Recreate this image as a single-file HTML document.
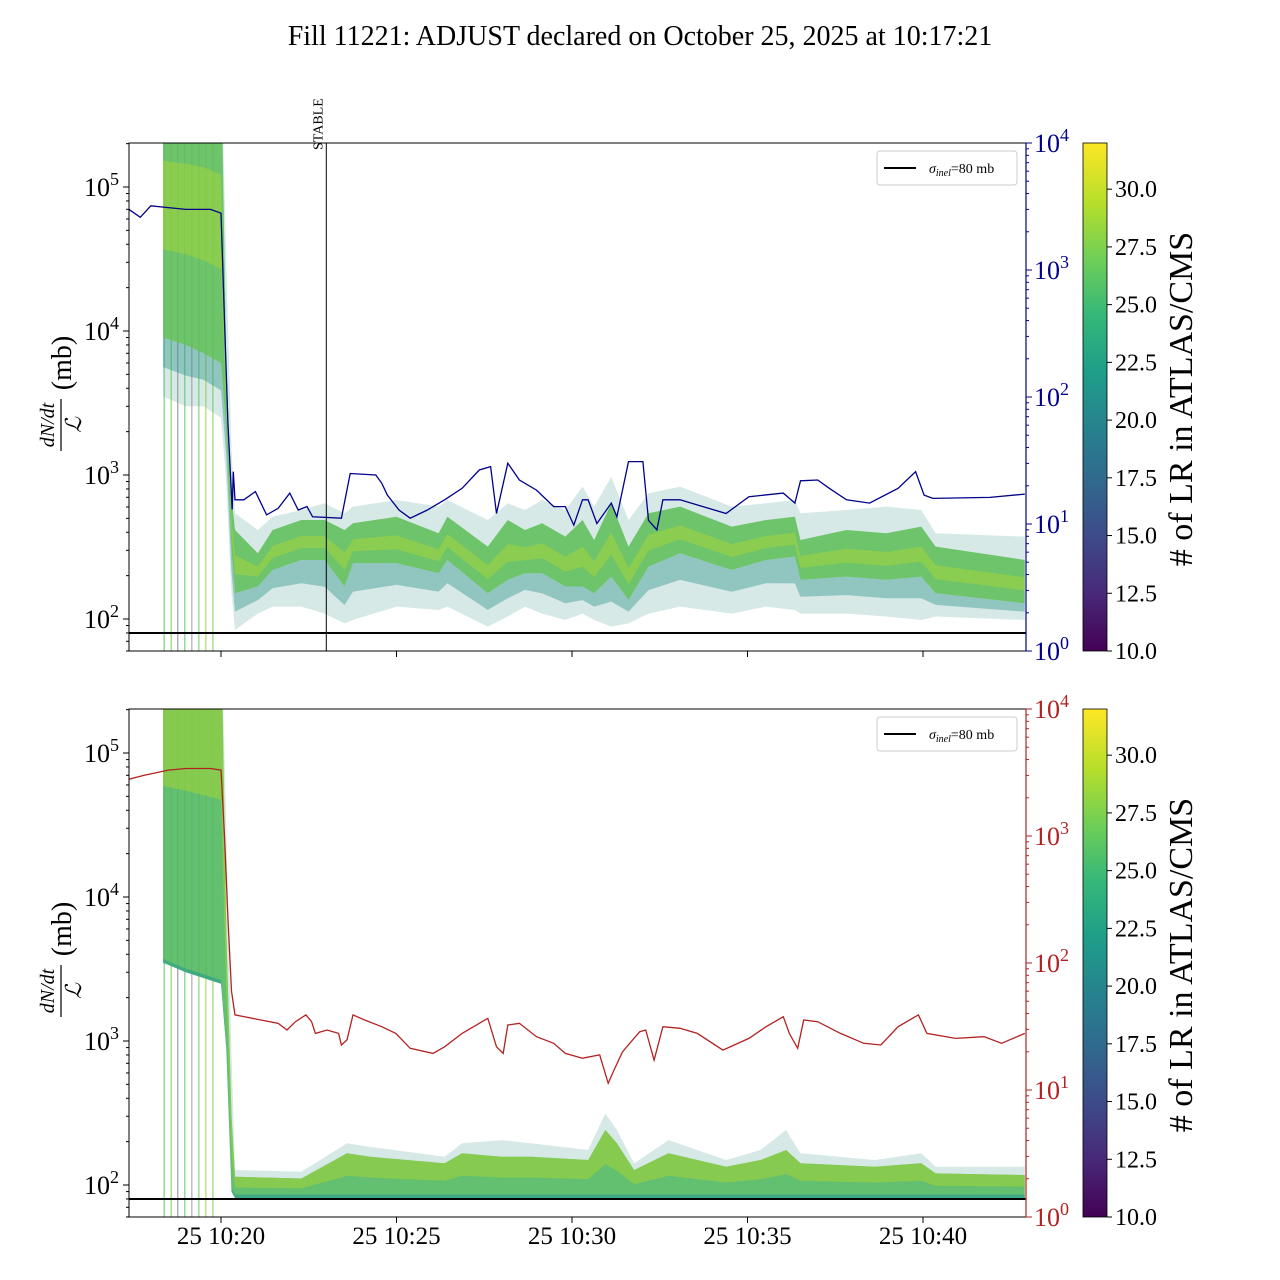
<!DOCTYPE html>
<html><head><meta charset="utf-8">
<style>
html,body{margin:0;padding:0;background:#fff;}
svg{display:block;font-family:"Liberation Serif",serif;}
</style></head>
<body>
<svg id="chart" width="1280" height="1280" viewBox="0 0 1280 1280" xmlns="http://www.w3.org/2000/svg">
<defs>
<linearGradient id="viridis" x1="0" y1="1" x2="0" y2="0">
<stop offset="0" stop-color="#440154"/><stop offset="0.11" stop-color="#482878"/><stop offset="0.22" stop-color="#3e4989"/><stop offset="0.33" stop-color="#31688e"/><stop offset="0.44" stop-color="#26828e"/><stop offset="0.55" stop-color="#1f9e89"/><stop offset="0.66" stop-color="#35b779"/><stop offset="0.77" stop-color="#6ece58"/><stop offset="0.88" stop-color="#b5de2b"/><stop offset="1" stop-color="#fde725"/>
</linearGradient>
<clipPath id="clipTop"><rect x="129" y="143" width="897" height="508"/></clipPath>
<clipPath id="clipBot"><rect x="129" y="709" width="897" height="508"/></clipPath>
</defs>
<text x="640" y="45" text-anchor="middle" font-size="28">Fill 11221: ADJUST declared on October 25, 2025 at 10:17:21</text>
</svg>
<script>
// ---- data ----
const blueT=[-2.62,-2.3,-2.0,-1.5,-1.0,-0.3,0.0,0.1,0.2,0.32,0.35,0.40,0.65,0.98,1.30,1.63,1.96,2.20,2.45,2.61,3.43,3.68,4.41,4.58,4.74,5.07,5.39,5.88,6.37,6.87,7.36,7.68,7.85,8.17,8.50,8.99,9.48,9.81,10.05,10.30,10.46,10.71,11.12,11.28,11.61,12.02,12.18,12.42,12.59,13.08,13.73,14.39,15.04,16.02,16.35,16.51,17.00,17.33,17.82,18.48,19.29,19.79,20.03,20.28,21.91,22.9];
const blueV=[3000,2600,3200,3100,3000,3000,2800,400,60,13,25.8,15.5,15.5,18,11.8,13.3,17.5,12.9,13.7,11.4,11.1,25,24.3,20.9,16.9,12.9,11.1,12.9,15.5,19.1,26.6,28.3,12.1,30.1,22.2,18.5,13.7,13.7,9.8,15.5,15.5,10.1,14.6,11.4,31,31,10.7,9.0,15.5,15.5,13.7,12.1,16.4,17.5,14.6,21.9,22.2,19.1,15.5,14.6,19.1,25.8,16.9,15.9,16.2,17.2];
const redT=[-2.62,-2.2,-1.5,-1.0,-0.3,0.0,0.1,0.2,0.3,0.40,1.14,1.63,1.88,2.12,2.42,2.58,2.69,3.02,3.35,3.43,3.59,3.76,4.09,4.58,4.98,5.39,6.04,6.37,6.87,7.60,7.85,8.04,8.17,8.50,8.99,9.48,9.81,10.30,10.79,11.03,11.20,11.44,11.93,12.10,12.34,12.59,13.08,13.57,14.30,15.04,15.53,16.02,16.19,16.43,16.60,17.00,17.65,18.31,18.80,19.29,19.87,20.11,20.93,21.74,22.24,22.9];
const redV=[2800,3000,3300,3400,3400,3300,1000,220,60,39,35.6,33.5,29.7,34.5,39,34.5,27.9,29.7,27.9,22.6,24.8,39,35.6,31.5,27.9,21.3,19.4,21.9,27.9,36.7,21.9,19.4,32.5,33.5,26.3,23.3,19.4,17.8,18.9,11.3,14.4,20,28.8,29.7,17.2,31.5,30.6,27.9,20.6,25.5,31.5,37.8,27.9,21.3,35.6,34.5,27.9,23.3,22.6,31.5,39,27.9,25.5,26.3,23.3,27.9];
const bandT=[-1.65,-1.0,-0.5,0.0,0.15,0.30,0.40,1.05,1.47,2.29,2.95,3.52,3.76,5.0,6.2,6.45,7.6,8.17,8.66,9.15,9.81,10.3,10.63,11.12,11.61,12.18,13.08,14.55,15.53,16.35,16.51,17.82,18.96,19.95,20.36,22.9];
const topHi=[1000000,1000000,1000000,1000000,30000,1500,542,415,513,571,636,542,603,670,603,670,487,636,571,670,571,830,603,973,487,746,830,603,636,670,542,571,603,571,394,373];
const topCoreHi=[1000000,1000000,1000000,900000,6000,700,415,286,415,487,487,415,462,513,394,513,318,487,415,462,373,487,354,636,318,542,603,438,487,513,354,415,394,438,318,257];
const topCoreLo=[9000,8000,7000,6000,2000,300,151,168,219,257,257,168,244,244,208,257,151,187,208,208,168,168,151,197,135.5,231,286,219,257,271,187,197,187,197,151,128.5];
const topLo=[3500,3000,3000,2500,900,150,84,109,122,122,109,93.3,98.4,122,115.5,122,88.5,104,122,109,98.4,109,98.4,88.5,93.3,109,122,109,122,115.5,109,109,104,98.4,104,98.4];
const botT=[-1.65,-1.0,0.0,0.15,0.30,0.40,2.29,3.59,4.25,6.37,6.87,8.0,8.83,10.46,10.95,11.28,11.77,12.75,14.39,15.37,16.10,16.51,18.63,19.95,20.36,22.9];
const botHi=[1000000,1000000,1000000,30000,800,127,123.7,195,184,157,195,205,195,175,314,241,141.5,205,149,175,241,166,149,166,134,134];
const botCore=[1000000,1000000,900000,6000,300,114,111,166,157,141.5,166,157,157,149,241,195,127,166,134,149,175,141.5,134,141.5,120.5,117.3];
const botLo=[3500,3000,2500,900,90,81,81,81,81,81,81,81,81,81,81,81,81,81,81,81,81,81,81,81,81,81];
const vlineT=[-1.62,-1.42,-1.23,-1.03,-0.83,-0.63,-0.43,-0.23];
const vlineC=["#5ec962","#7ad151","#8a8a8a","#5ec962","#9a9a9a","#6ece58","#a0da39","#7ad151"];
const xTickT=[0,5,10,15,20];
const xTickL=["25 10:20","25 10:25","25 10:30","25 10:35","25 10:40"];
const leftDecades=[2,3,4,5];
const rightDecades=[0,1,2,3,4];
const cbTicks=[10,12.5,15,17.5,20,22.5,25,27.5,30];
const stableT=3.0;
const sigmaInel=80;

const NS="http://www.w3.org/2000/svg";
const svg=document.getElementById('chart');
const X0=129,X1=1026;
function xs(t){return 221+t*35.1;}
function yL(v,off){return 619+off-(Math.log10(v)-2)*144;}
function yR(v,off){return 651+off-Math.log10(v)*127;}
function mk(tag,attrs,parent){const e=document.createElementNS(NS,tag);for(const k in attrs)e.setAttribute(k,attrs[k]);(parent||svg).appendChild(e);return e;}

function panel(off,name,rightColor,lineT,lineV,bT,hi,cHi,cLo,lo,stable){
  const g=mk('g',{});
  
  
  const top=143+off,bot=651+off;
  const clip=mk('g',{'clip-path':off?'url(#clipBot)':'url(#clipTop)'},g);
  
  
  vlineT.forEach((t,i)=>{
    const l=mk('line',{x1:xs(t),x2:xs(t),y1:top,y2:bot,stroke:vlineC[i],'stroke-width':1},clip);
    
    
  });
  function poly(upper,lower,fill,op,nm){
    let pts=[];
    for(let i=0;i<bT.length;i++)pts.push(xs(bT[i])+','+yL(upper[i],off));
    for(let i=bT.length-1;i>=0;i--)pts.push(xs(bT[i])+','+yL(lower[i],off));
    const p=mk('polygon',{points:pts.join(' '),fill:fill,'fill-opacity':op},clip);
    
    
  }
  poly(hi,lo,'#5aa99a',0.25,'lr-band-outer');
  if(lo[lo.length-1]>90){
    const mid=cLo.map((v,i)=>Math.sqrt(v*lo[i]));
    poly(cLo,mid,'#2a8f86',0.4,'lr-band-lower');
    poly(cHi,cLo,'#5cbd55',0.85,'lr-band-core');
    const c2=cHi.map((v,i)=>Math.pow(v,0.6)*Math.pow(cLo[i],0.4));
    const c3=cHi.map((v,i)=>Math.pow(v,0.3)*Math.pow(cLo[i],0.7));
    poly(c2,c3,'#a6d636',0.5,'lr-band-center');
  } else {
    poly(cHi,lo,'#4fb85a',0.85,'lr-band-core');
    const mid=cHi.map((v,i)=>Math.sqrt(v*lo[i]));
    poly(cHi,mid,'#9ed23a',0.6,'lr-band-center');
    const lowb=lo.map(v=>v*1.06);
    poly(lowb,lo,'#2a9d8f',0.6,'lr-band-lower');
  }
  const d=lineT.map((t,i)=>(i?'L':'M')+xs(t).toFixed(1)+','+yR(lineV[i],off).toFixed(1)).join(' ');
  const pl=mk('path',{d:d,fill:'none',stroke:rightColor,'stroke-width':1.3},clip);
  
  
  const sl=mk('line',{x1:X0,x2:X1,y1:yL(sigmaInel,off),y2:yL(sigmaInel,off),stroke:'#000','stroke-width':2},clip);
  
  
  if(stable){
    const st=mk('line',{x1:xs(stableT),x2:xs(stableT),y1:top,y2:bot,stroke:'#000','stroke-width':1},g);
    
    
    const tx=mk('text',{x:0,y:0,'font-size':14,transform:`translate(${xs(stableT)-4},150) rotate(-90)`},g);
    tx.textContent='STABLE';
    
    
  }
  const fr=mk('rect',{x:X0,y:top,width:X1-X0,height:508,fill:'none',stroke:'#000','stroke-width':1},g);
  
  
  const rs=mk('line',{x1:X1,x2:X1,y1:top,y2:bot,stroke:rightColor,'stroke-width':1.2},g);
  
  
  leftDecades.forEach(dd=>{
    const y=yL(Math.pow(10,dd),off);
    const t=mk('line',{x1:X0-6,x2:X0,y1:y,y2:y,stroke:'#000'},g);
    
    
    const lb=mk('text',{x:X0-10,y:y+9,'font-size':26,'text-anchor':'end'},g);
    lb.innerHTML='10<tspan dy="-11" font-size="18">'+dd+'</tspan>';
    
    
  });
  for(let dd=1;dd<=5;dd++)for(let m=2;m<=9;m++){
    const y=yL(m*Math.pow(10,dd),off);
    if(y<top||y>bot)continue;
    const t=mk('line',{x1:X0-3,x2:X0,y1:y,y2:y,stroke:'#000'},g);
    
    
  }
  rightDecades.forEach(dd=>{
    const y=yR(Math.pow(10,dd),off);
    const t=mk('line',{x1:X1,x2:X1+6,y1:y,y2:y,stroke:rightColor},g);
    
    
    const lb=mk('text',{x:X1+8,y:y+9,'font-size':26,fill:rightColor},g);
    lb.innerHTML='10<tspan dy="-11" font-size="18">'+dd+'</tspan>';
    
    
    if(dd<4)for(let m=2;m<=9;m++){
      const ym=yR(m*Math.pow(10,dd),off);
      const mt=mk('line',{x1:X1,x2:X1+3,y1:ym,y2:ym,stroke:rightColor},g);
      
      
    }
  });
  xTickT.forEach((t,i)=>{
    const x=xs(t);
    const tk=mk('line',{x1:x,x2:x,y1:bot,y2:bot+6,stroke:'#000'},g);
    
    
    if(off){
      const lb=mk('text',{x:x,y:bot+27,'font-size':25,'text-anchor':'middle'},g);
      lb.textContent=xTickL[i];
      
      
    }
  });
  const yl=mk('g',{transform:`translate(62,${397+off}) rotate(-90)`},g);
  
  
  const n=mk('text',{x:-28,y:-8,'font-size':20,'font-style':'italic','text-anchor':'middle'},yl);n.textContent='dN/dt';
  
  
  mk('line',{x1:-54,x2:-2,y1:-1,y2:-1,stroke:'#000','stroke-width':1.2},yl);
  const dn=mk('text',{x:-28,y:19,'font-size':22,'font-style':'italic','text-anchor':'middle'},yl);dn.textContent='ℒ';
  
  
  const mb=mk('text',{x:34,y:9,'font-size':28,'text-anchor':'middle'},yl);mb.textContent='(mb)';
  
  
  const lg=mk('g',{},g);
  
  
  mk('rect',{x:877,y:151+off,width:140,height:34,rx:3,fill:'#fff',stroke:'#ccc'},lg);
  mk('line',{x1:884,x2:916,y1:168+off,y2:168+off,stroke:'#000','stroke-width':2},lg);
  const lt=mk('text',{x:929,y:173+off,'font-size':14},lg);
  lt.innerHTML='<tspan font-style="italic">σ</tspan><tspan font-style="italic" font-size="10" dy="3">inel</tspan><tspan dy="-3">=80 mb</tspan>';
  
  
  const cb=mk('g',{},g);
  
  
  mk('rect',{x:1083,y:top,width:24,height:508,fill:'url(#viridis)',stroke:'#000','stroke-width':0.8},cb);
  cbTicks.forEach(v=>{
    const y=bot-(v-10)/22*508;
    mk('line',{x1:1107,x2:1112,y1:y,y2:y,stroke:'#000'},cb);
    const lb=mk('text',{x:1115,y:y+8,'font-size':24},cb);
    lb.textContent=v.toFixed(1);
    
    
  });
  const ct=mk('text',{x:0,y:0,'font-size':34,'text-anchor':'middle',transform:`translate(1192,${399+off}) rotate(-90)`},cb);
  ct.textContent='# of LR in ATLAS/CMS';
  
  
}
panel(0,'top-panel','#00008b',blueT,blueV,bandT,topHi,topCoreHi,topCoreLo,topLo,true);
panel(566,'bottom-panel','#b22222',redT,redV,botT,botHi,botCore,botCore.map(v=>v),botLo,false);
</script>
</body></html>
